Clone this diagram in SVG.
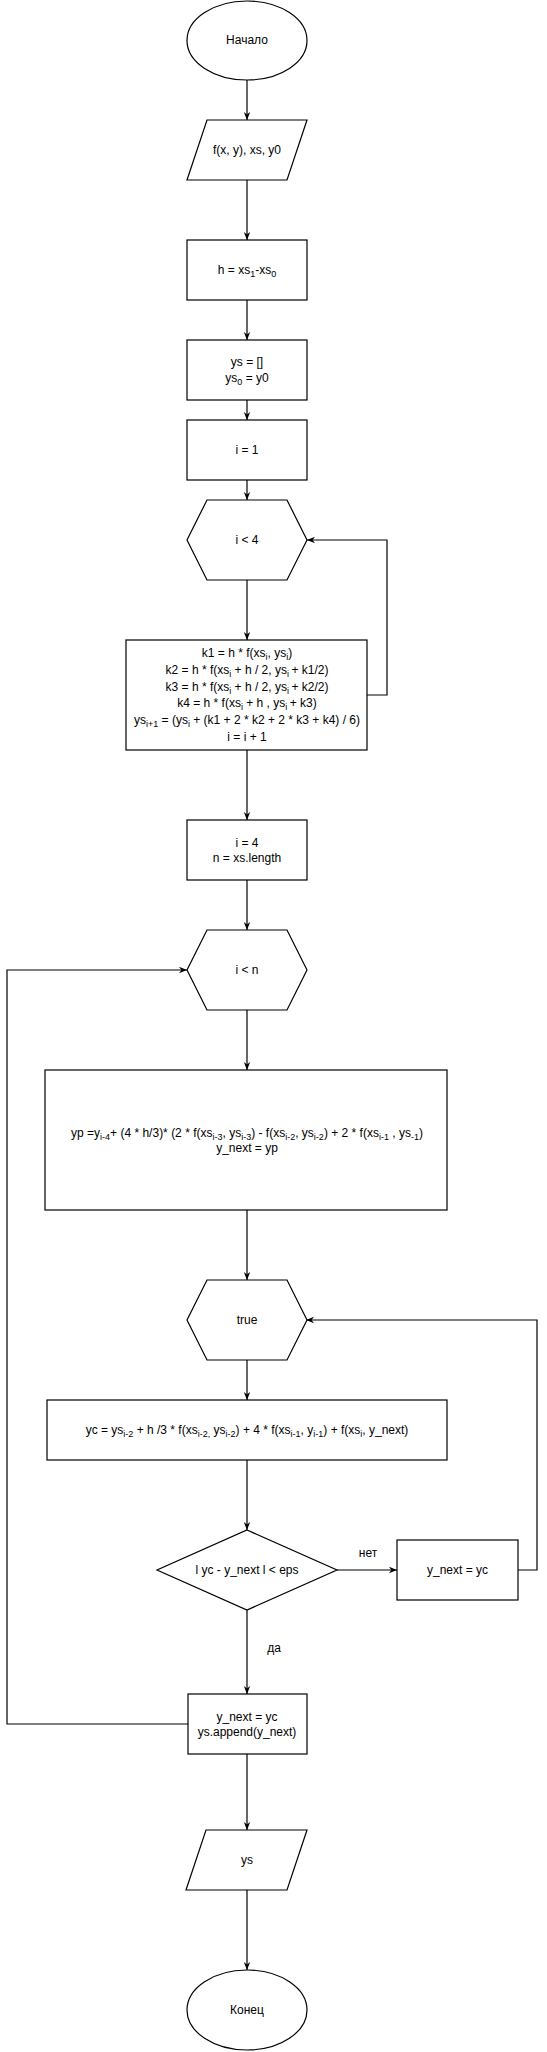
<svg xmlns="http://www.w3.org/2000/svg" width="547" height="2052" viewBox="0 0 547 2052">
<defs>
<marker id="arr" viewBox="0 0 10 10" refX="10" refY="5" markerWidth="8" markerHeight="8" markerUnits="userSpaceOnUse" orient="auto">
<path d="M0,1 L10,5 L0,9 L3,5 Z" fill="#000"/>
</marker>
<style>
.n{fill:#fff;stroke:#000;stroke-width:1.2}
.t{font-family:"Liberation Sans",Arial,sans-serif;font-size:12px;fill:#000;text-anchor:middle}
.s{font-size:9px}
.c{fill:none;stroke:#000;stroke-width:1.2;marker-end:url(#arr)}
.cl{fill:none;stroke:#000;stroke-width:1.2}
</style>
</defs>
<rect width="547" height="2052" fill="#fff"/>
<g id="connectors">
<path class="c" d="M247,80 V120"/>
<path class="c" d="M247,180 V240"/>
<path class="c" d="M247,300 V340"/>
<path class="c" d="M247,400 V420"/>
<path class="c" d="M247,480 V500"/>
<path class="c" d="M247,580 V640"/>
<path class="c" d="M367,695 H387 V540 H307"/>
<path class="c" d="M247,750 V820"/>
<path class="c" d="M247,880 V930"/>
<path class="c" d="M247,1010 V1070"/>
<path class="c" d="M247,1210 V1280"/>
<path class="c" d="M247,1360 V1400"/>
<path class="c" d="M247,1460 V1530"/>
<path class="c" d="M337,1570 H397"/>
<path class="c" d="M518,1570 H537 V1320 H306"/>
<path class="c" d="M247,1610 V1694"/>
<path class="c" d="M188,1724 H7 V970 H187"/>
<path class="c" d="M247,1754 V1830"/>
<path class="c" d="M247,1890 V1970"/>
<text class="t" x="368" y="1557">нет</text>
<text class="t" x="274" y="1652">да</text>
</g>
<g id="start">
<ellipse class="n" cx="247" cy="40.5" rx="60" ry="39.5"/>
<text class="t" x="247" y="44">Начало</text>
</g>
<g id="input">
<polygon class="n" points="207,120 307,120 287,180 187,180"/>
<text class="t" x="247" y="154">f(x, y), xs, y0</text>
</g>
<g id="h">
<rect class="n" x="187" y="240" width="120" height="60"/>
<text class="t" x="247" y="274">h = xs<tspan class="s" dy="3">1</tspan><tspan dy="-3">-xs</tspan><tspan class="s" dy="3">0</tspan></text>
</g>
<g id="ys">
<rect class="n" x="187" y="340" width="120" height="60"/>
<text class="t" x="247" y="366">ys = []</text>
<text class="t" x="247" y="382">ys<tspan class="s" dy="3">0</tspan><tspan dy="-3"> = y0</tspan></text>
</g>
<g id="i1">
<rect class="n" x="187" y="420" width="120" height="60"/>
<text class="t" x="247" y="454">i = 1</text>
</g>
<g id="cond4">
<polygon class="n" points="207,500 287,500 307,540 287,580 207,580 187,540"/>
<text class="t" x="247" y="544">i &lt; 4</text>
</g>
<g id="rk">
<rect class="n" x="126" y="640" width="241" height="110"/>
<text class="t" x="247" y="657">k1 = h * f(xs<tspan class="s" dy="3">i</tspan><tspan dy="-3">, ys</tspan><tspan class="s" dy="3">i</tspan><tspan dy="-3">)</tspan></text>
<text class="t" x="247" y="674">k2 = h * f(xs<tspan class="s" dy="3">i</tspan><tspan dy="-3"> + h / 2, ys</tspan><tspan class="s" dy="3">i </tspan><tspan dy="-3">+ k1/2)</tspan></text>
<text class="t" x="247" y="691">k3 = h * f(xs<tspan class="s" dy="3">i</tspan><tspan dy="-3"> + h / 2, ys</tspan><tspan class="s" dy="3">i </tspan><tspan dy="-3">+ k2/2)</tspan></text>
<text class="t" x="247" y="707">k4 = h * f(xs<tspan class="s" dy="3">i</tspan><tspan dy="-3"> + h , ys</tspan><tspan class="s" dy="3">i </tspan><tspan dy="-3">+ k3)</tspan></text>
<text class="t" x="247" y="724">ys<tspan class="s" dy="3">i+1</tspan><tspan dy="-3"> = (ys</tspan><tspan class="s" dy="3">i</tspan><tspan dy="-3"> + (k1 + 2 * k2 + 2 * k3 + k4) / 6)</tspan></text>
<text class="t" x="247" y="741">i = i + 1</text>
</g>
<g id="i4">
<rect class="n" x="187" y="820" width="120" height="60"/>
<text class="t" x="247" y="847">i = 4</text>
<text class="t" x="247" y="862">n = xs.length</text>
</g>
<g id="condn">
<polygon class="n" points="207,930 287,930 307,970 287,1010 207,1010 187,970"/>
<text class="t" x="247" y="974">i &lt; n</text>
</g>
<g id="yp">
<rect class="n" x="45" y="1070" width="402" height="140"/>
<text class="t" x="247" y="1137">yp =y<tspan class="s" dy="3">i-4</tspan><tspan dy="-3">+ (4 * h/3)* (2 * f(xs</tspan><tspan class="s" dy="3">i-3</tspan><tspan dy="-3">, ys</tspan><tspan class="s" dy="3">i-3</tspan><tspan dy="-3">) - f(xs</tspan><tspan class="s" dy="3">i-2</tspan><tspan dy="-3">, ys</tspan><tspan class="s" dy="3">i-2</tspan><tspan dy="-3">) + 2 * f(xs</tspan><tspan class="s" dy="3">i-1</tspan><tspan dy="-3"> , ys</tspan><tspan class="s" dy="3">-1</tspan><tspan dy="-3">)</tspan></text>
<text class="t" x="247" y="1152">y_next = yp</text>
</g>
<g id="true">
<polygon class="n" points="207,1280 287,1280 307,1320 287,1360 207,1360 187,1320"/>
<text class="t" x="247" y="1324">true</text>
</g>
<g id="yc">
<rect class="n" x="47" y="1400" width="400" height="60"/>
<text class="t" x="247" y="1434">yc = ys<tspan class="s" dy="3">i-2</tspan><tspan dy="-3"> + h /3 * f(xs</tspan><tspan class="s" dy="3">i-2,</tspan><tspan dy="-3"> ys</tspan><tspan class="s" dy="3">i-2</tspan><tspan dy="-3">) + 4 * f(xs</tspan><tspan class="s" dy="3">i-1</tspan><tspan dy="-3">, y</tspan><tspan class="s" dy="3">i-1</tspan><tspan dy="-3">) + f(xs</tspan><tspan class="s" dy="3">i</tspan><tspan dy="-3">, y_next)</tspan></text>
</g>
<g id="check">
<polygon class="n" points="247,1530 337,1570 247,1610 157,1570"/>
<text class="t" x="247" y="1574">l yc - y_next l &lt; eps</text>
</g>
<g id="ynext">
<rect class="n" x="397" y="1540" width="121" height="60"/>
<text class="t" x="457.5" y="1574">y_next = yc</text>
</g>
<g id="append">
<rect class="n" x="188" y="1694" width="119" height="60"/>
<text class="t" x="247" y="1721">y_next = yc</text>
<text class="t" x="247" y="1736">ys.append(y_next)</text>
</g>
<g id="output">
<polygon class="n" points="206,1830 307,1830 287,1890 186,1890"/>
<text class="t" x="247" y="1864">ys</text>
</g>
<g id="end">
<ellipse class="n" cx="247" cy="2010" rx="60" ry="40"/>
<text class="t" x="247" y="2014">Конец</text>
</g>
</svg>
